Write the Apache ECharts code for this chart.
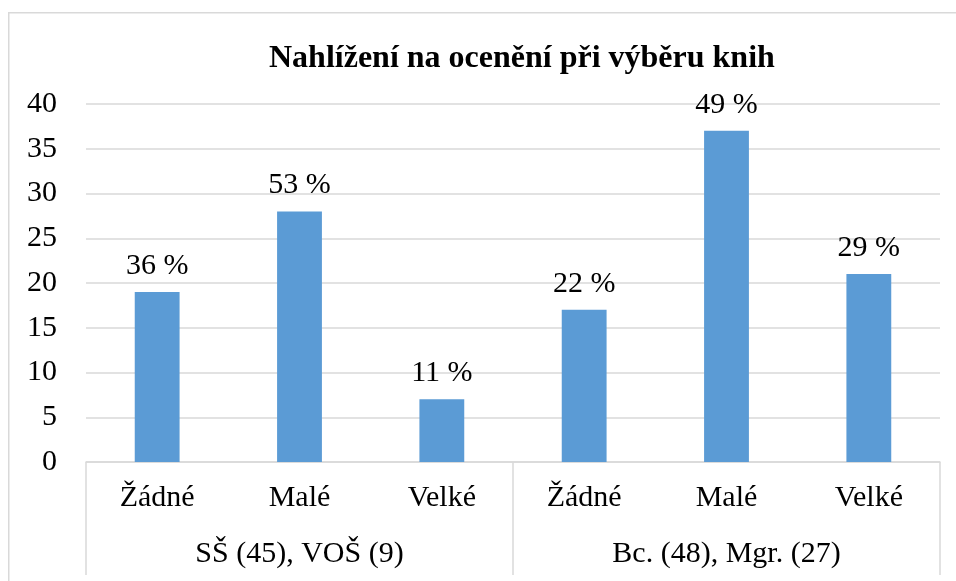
<!DOCTYPE html>
<html><head><meta charset="utf-8">
<script src="https://cdn.jsdelivr.net/npm/echarts@6/dist/echarts.min.js"></script>
<style>html,body{margin:0;padding:0;background:#fff}#c{width:956px;height:581px}</style>
</head><body><div id="c"></div>
<script>
const title = 'Nahlížení na ocenění při výběru knih';
const categories = ['Žádné', 'Malé', 'Velké', 'Žádné', 'Malé', 'Velké'];
const groups = ['SŠ (45), VOŠ (9)', 'Bc. (48), Mgr. (27)'];
const values = [19, 28, 7, 17, 37, 21];
const percentLabels = ['36 %', '53 %', '11 %', '22 %', '49 %', '29 %'];

const FONT = '"Liberation Serif", "Times New Roman", serif';
const chart = echarts.init(document.getElementById('c'), null, {renderer: 'canvas'});
chart.setOption({
  animation: false,
  textStyle: {fontFamily: FONT},
  graphic: [{
    type: 'rect', left: 8, top: 12, z: -10,
    shape: {width: 1000, height: 700},
    style: {fill: '#fff', stroke: '#d9d9d9', lineWidth: 1.5}
  }],
  title: {
    text: title, left: 264, top: 38,
    textStyle: {fontFamily: FONT, fontSize: 32, fontWeight: 'bold', color: '#000'}
  },
  grid: {left: 86, right: 16, top: 104, bottom: 119},
  xAxis: [{
    type: 'category', data: categories, position: 'bottom',
    axisLine: {show: true, lineStyle: {color: '#d9d9d9', width: 1.5}},
    axisTick: {show: false},
    axisLabel: {fontFamily: FONT, fontSize: 30, color: '#000', margin: 21, interval: 0}
  }, {
    type: 'category', data: groups, position: 'bottom', offset: 0,
    axisLine: {show: false},
    axisTick: {show: true, length: 113, interval: 0, lineStyle: {color: '#d9d9d9', width: 1.5}},
    axisLabel: {fontFamily: FONT, fontSize: 30, color: '#000', margin: 77, interval: 0}
  }],
  yAxis: {
    type: 'value', min: 0, max: 40, interval: 5,
    axisLine: {show: false}, axisTick: {show: false},
    splitLine: {lineStyle: {color: '#d9d9d9', width: 1.5}},
    axisLabel: {fontFamily: FONT, fontSize: 30, color: '#000', margin: 29}
  },
  series: [{
    type: 'bar', xAxisIndex: 0, data: values, barWidth: '31.5%',
    itemStyle: {color: '#5b9bd5'},
    label: {
      show: true, position: 'top', distance: 11,
      fontFamily: FONT, fontSize: 30, color: '#000',
      formatter: p => percentLabels[p.dataIndex]
    }
  }]
});
</script></body></html>
